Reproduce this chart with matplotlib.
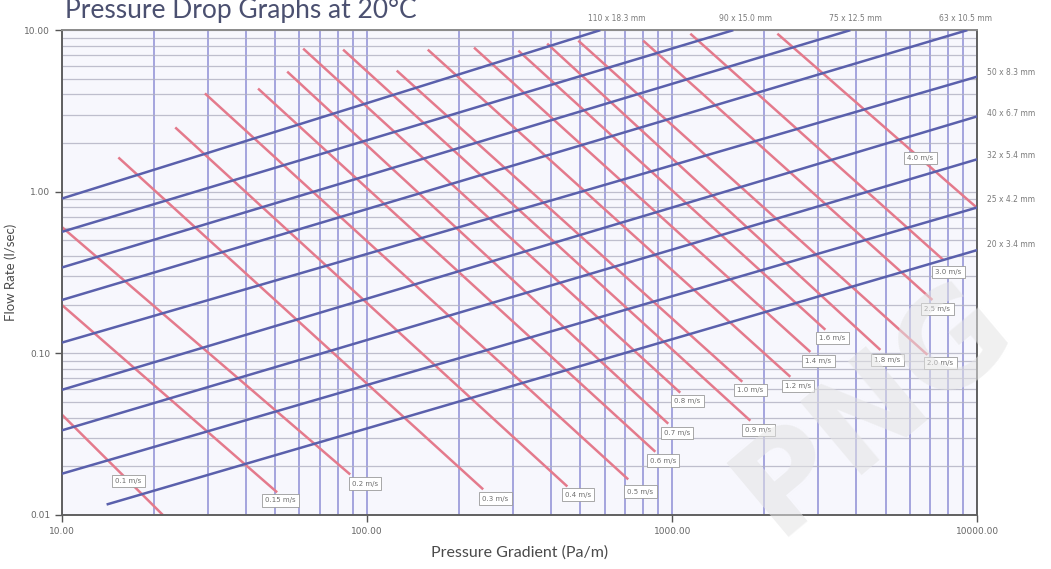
import matplotlib.pyplot as plt
from matplotlib.ticker import LogLocator, FuncFormatter, NullFormatter
from matplotlib.transforms import blended_transform_factory

# Pipe sizes (blue lines): start / end points as (gradient Pa/m, flow l/s)
pipe_names = ['110 x 18.3 mm', '90 x 15.0 mm', '75 x 12.5 mm', '63 x 10.5 mm',
              '50 x 8.3 mm', '40 x 6.7 mm', '32 x 5.4 mm', '25 x 4.2 mm', '20 x 3.4 mm']
pipe_g0 = [10, 10, 10, 10, 10, 10, 10, 10, 14.0]
pipe_q0 = [0.908, 0.565, 0.340, 0.214, 0.1166, 0.0595, 0.0334, 0.0180, 0.0116]
pipe_g1 = [581, 1585, 3834, 9268, 10000, 10000, 10000, 10000, 10000]
pipe_q1 = [10, 10, 10, 10, 5.16, 2.93, 1.59, 0.80, 0.436]

# where the pipe names sit: first four above the plot, the rest on the right
top_label_g = [660, 1735, 3981, 9135]
right_label_q = [5.47, 3.05, 1.68, 0.899, 0.474]

# Velocity lines (red), m/s
velocities = [0.1, 0.15, 0.2, 0.3, 0.4, 0.5, 0.6, 0.7, 0.8, 0.9,
              1.0, 1.2, 1.4, 1.6, 1.8, 2.0, 2.5, 3.0, 4.0]
vel_g0 = [10, 10, 10, 15.3, 23.5, 29.4, 43.9, 54.7, 61.7, 83.4,
          125, 158, 224, 313, 389, 492, 803, 1146, 2210]
vel_q0 = [0.0417, 0.199, 0.604, 1.63, 2.50, 4.06, 4.35, 5.54, 7.69, 7.58,
          5.62, 7.58, 7.80, 7.47, 8.25, 8.61, 8.61, 9.51, 9.51]
vel_g1 = [21.4, 50.7, 88.0, 240, 453, 717, 880, 970, 1062, 1802,
          1696, 2437, 2835, 3174, 4808, 6855, 7119, 7737, 10000]
vel_q1 = [0.0100, 0.0138, 0.0178, 0.0144, 0.0150, 0.0166, 0.0246, 0.0367, 0.0571, 0.0383,
          0.0667, 0.0716, 0.102, 0.140, 0.105, 0.098, 0.214, 0.378, 0.791]

# velocity tag positions
vel_label_g = [16.5, 51.9, 98.5, 263, 492, 786, 934, 1038, 1120, 1914,
               1802, 2588, 3011, 3346, 5070, 7562, 7393, 8035, 6501]
vel_label_q = [0.0163, 0.0123, 0.01565, 0.01264, 0.01338, 0.01396, 0.0217, 0.0323, 0.0509, 0.0337,
               0.0595, 0.063, 0.0899, 0.1247, 0.0912, 0.0874, 0.188, 0.3185, 1.61]

fig = plt.figure(figsize=(10.51, 5.69), dpi=100)
ax = fig.add_axes([0.059, 0.095, 0.871, 0.852])
ax.set_facecolor('#f7f7fd')

ax.set_xscale('log')
ax.set_yscale('log')
ax.set_xlim(10, 10000)
ax.set_ylim(0.01, 10)

# graph paper grid
ax.xaxis.set_minor_locator(LogLocator(base=10, subs=range(2, 10)))
ax.yaxis.set_minor_locator(LogLocator(base=10, subs=range(2, 10)))
ax.xaxis.set_minor_formatter(NullFormatter())
ax.yaxis.set_minor_formatter(NullFormatter())
ax.grid(True, which='both', axis='x', color='#8585d2', linewidth=1.2, alpha=0.85)
ax.grid(True, which='both', axis='y', color='#b0b0c2', linewidth=0.9, alpha=0.8)
ax.set_axisbelow(True)

for g0, q0, g1, q1 in zip(pipe_g0, pipe_q0, pipe_g1, pipe_q1):
    ax.plot([g0, g1], [q0, q1], color='#5a60ac', linewidth=1.8, solid_capstyle='butt', zorder=3)

for g0, q0, g1, q1 in zip(vel_g0, vel_q0, vel_g1, vel_q1):
    ax.plot([g0, g1], [q0, q1], color='#e47a8c', linewidth=1.8, solid_capstyle='butt', zorder=2)

for v, g, q in zip(velocities, vel_label_g, vel_label_q):
    txt = ('%.1f' % v if round(v, 1) == v else '%.2f' % v) + ' m/s'
    ax.text(g, q, txt, fontsize=5, color='#6e6e6e', ha='center', va='center', zorder=5,
            bbox=dict(boxstyle='square,pad=0.45', facecolor='white', edgecolor='#9a9a9a', linewidth=0.6))

top_tr = blended_transform_factory(ax.transData, ax.transAxes)
for name, g in zip(pipe_names[:4], top_label_g):
    ax.text(g, 1.025, name, transform=top_tr, fontsize=5.5, color='#7a7a7a', ha='center', va='center')
right_tr = blended_transform_factory(ax.transAxes, ax.transData)
for name, q in zip(pipe_names[4:], right_label_q):
    ax.text(1.011, q, name, transform=right_tr, fontsize=5.5, color='#7a7a7a', ha='left', va='center')

# axes, ticks and labels
fmt = FuncFormatter(lambda v, pos: '%.2f' % v)
ax.xaxis.set_major_formatter(fmt)
ax.yaxis.set_major_formatter(fmt)
ax.tick_params(which='major', direction='out', length=5, width=1, color='#555555',
               labelsize=6.5, labelcolor='#666666')
ax.tick_params(which='minor', length=0)
for side in ['left', 'bottom', 'right', 'top']:
    ax.spines[side].set_color('#606060')
    ax.spines[side].set_linewidth(1.4)
ax.spines['top'].set_color('#8a8a8a')

ax.set_xlabel('Pressure Gradient (Pa/m)', fontsize=11.5, color='#4a4a4a', family='Lato', labelpad=7)
ax.set_ylabel('Flow Rate (l/sec)', fontsize=9.5, color='#4a4a4a', family='Lato', labelpad=5)
fig.text(0.062, 1.003, 'Pressure Drop Graphs at 20°C', fontsize=19, color='#4b5070',
         family='Lato', ha='left', va='top')

# faint stock watermark
fig.text(0.985, 0.02, 'PNG', fontsize=95, color='#e4e4e4', alpha=0.55, rotation=40,
         ha='right', va='bottom', family='DejaVu Sans', weight='bold', zorder=10)

fig.savefig('out.png', dpi=100)
